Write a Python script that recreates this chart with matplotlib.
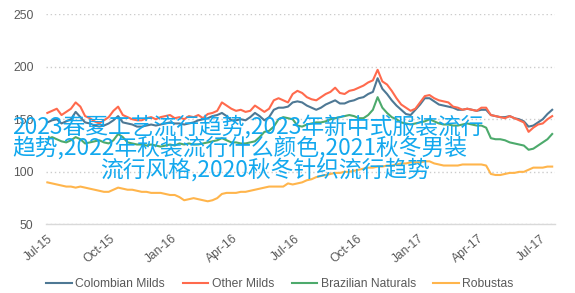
import matplotlib.pyplot as plt
import pandas as pd

# weekly readings, Jul 2015 - Jul 2017
dates = pd.date_range('2015-07-01', periods=108, freq='7D')

colombian = [147, 149, 150, 146, 148, 150, 157, 152, 147, 146, 144, 143, 144, 146, 149, 153, 147, 146, 145, 143,
             143, 144, 145, 144, 145, 146, 147, 146, 146, 145, 146, 147, 149, 150, 151, 153, 154, 156, 153, 149,
             149, 150, 149, 152, 156, 153, 149, 152, 159, 161, 161, 162, 166, 167, 166, 163, 161, 159, 161, 164,
             166, 168, 165, 165, 167, 168, 170, 171, 174, 176, 189, 179, 174, 168, 163, 159, 155, 154, 159, 164,
             170, 170, 167, 164, 163, 162, 161, 159, 159, 160, 159, 158, 159, 159, 154, 153, 152, 152, 153, 151,
             150, 148, 143, 144, 147, 150, 155, 159]
other = [156, 158, 160, 154, 157, 160, 166, 162, 153, 151, 148, 146, 149, 152, 158, 162, 154, 152, 150, 149,
         149, 151, 152, 150, 152, 153, 154, 151, 152, 150, 153, 152, 154, 151, 155, 156, 158, 166, 163, 160,
         158, 159, 157, 158, 163, 160, 157, 160, 168, 170, 168, 166, 174, 177, 175, 171, 169, 168, 171, 174,
         176, 180, 175, 174, 177, 178, 180, 182, 185, 187, 197, 186, 183, 177, 170, 164, 161, 158, 160, 166,
         172, 173, 170, 168, 167, 166, 162, 161, 159, 160, 159, 158, 161, 161, 154, 153, 152, 151, 153, 151,
         149, 147, 138, 142, 145, 146, 150, 153]
brazilian = [131, 133, 131, 129, 128, 130, 133, 131, 127, 128, 129, 130, 128, 127, 130, 136, 133, 128, 127, 126,
             126, 125, 126, 125, 124, 125, 126, 125, 127, 126, 127, 126, 126, 127, 128, 129, 130, 132, 130, 128,
             128, 127, 127, 128, 129, 133, 138, 139, 143, 150, 152, 151, 150, 144, 143, 145, 146, 147, 147, 148,
             150, 151, 152, 153, 154, 153, 151, 151, 154, 159, 171, 161, 156, 152, 150, 147, 146, 145, 146, 147,
             148, 150, 148, 146, 145, 145, 144, 144, 145, 146, 145, 144, 144, 142, 132, 131, 131, 130, 128, 127,
             126, 125, 121, 122, 125, 128, 131, 136]
robustas = [90, 89, 88, 87, 86, 86, 85, 86, 85, 84, 83, 82, 81, 81, 83, 85, 84, 83, 83, 82,
            81, 81, 80, 80, 80, 79, 78, 78, 76, 73, 74, 75, 74, 73, 72, 73, 75, 79, 80, 80,
            80, 81, 81, 82, 83, 84, 85, 86, 86, 86, 86, 89, 88, 89, 90, 92, 93, 95, 96, 97,
            98, 99, 99, 100, 100, 101, 102, 103, 104, 104, 105, 105, 106, 106, 107, 108, 108, 109, 109, 109,
            110, 110, 108, 107, 106, 106, 106, 106, 107, 107, 107, 107, 107, 106, 98, 97, 97, 98, 99, 99,
            100, 100, 102, 104, 104, 104, 105, 105]

series_names = ['Colombian Milds', 'Other Milds', 'Brazilian Naturals', 'Robustas']
colors = ['#4E7894', '#FF6A4D', '#4DAA6C', '#FFB54C']
yticks = [50, 100, 150, 200, 250]
xtick_dates = pd.date_range('2015-07-01', '2017-07-01', freq='QS')

overlay_lines = ['2023春夏工艺流行趋势,2023年新中式服装流行',
                 '趋势,2022年秋装流行什么颜色,2021秋冬男装',
                 '流行风格,2020秋冬针织流行趋势']

plt.rcParams['font.family'] = ['Liberation Sans', 'DejaVu Sans']

fig = plt.figure(figsize=(5.75, 2.93), dpi=100)
ax = fig.add_axes([0.08, 0.234, 0.885, 0.718])

for vals, name, c in zip([colombian, other, brazilian, robustas], series_names, colors):
    ax.plot(dates, vals, color=c, lw=1.5, label=name)

ax.set_ylim(50, 250)
ax.set_yticks(yticks)
ax.set_xlim(pd.Timestamp('2015-06-29'), pd.Timestamp('2017-07-23'))
ax.set_xticks(xtick_dates)
ax.set_xticklabels([d.strftime('%b-%y') for d in xtick_dates], rotation=40,
                   ha='right', rotation_mode='anchor')
ax.tick_params(axis='both', length=0, labelsize=8.7, labelcolor='#595959')
ax.tick_params(axis='y', pad=9)
ax.tick_params(axis='x', pad=6)

ax.grid(axis='y', color='#cccccc', linestyle=(0, (1, 2)), lw=1)
ax.set_axisbelow(True)
for s in ['top', 'right', 'left']:
    ax.spines[s].set_visible(False)
ax.spines['bottom'].set_color('#d9d9d9')
ax.spines['bottom'].set_linewidth(1)

fig.legend(loc='center', bbox_to_anchor=(0.487, 0.03), ncol=4, frameon=False,
           fontsize=8.7, handlelength=2.1, columnspacing=1.45, handletextpad=0.3,
           labelcolor='#595959')

cjk = ['Noto Sans CJK SC', 'DejaVu Sans']
for txt, x, y in zip(overlay_lines, [12, 12, 100], [127, 148, 170]):
    fig.text(x / 575, 1 - y / 293, txt, family=cjk, fontsize=16.4, color='#12A8EE',
             ha='left', va='center')

plt.savefig('out.png', dpi=100)
plt.close()
